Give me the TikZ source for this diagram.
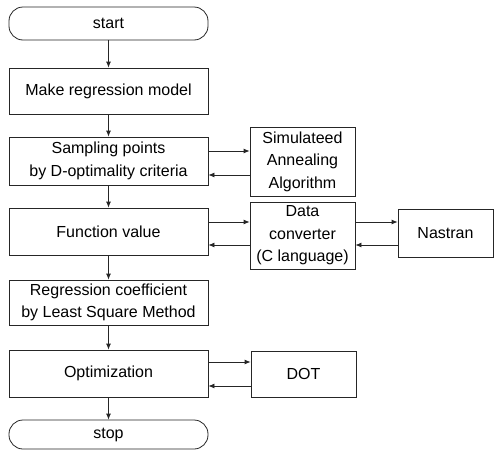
\documentclass[tikz,border=0pt]{standalone}
\usepackage{fontspec}
\setmainfont{Liberation Sans}
\usetikzlibrary{arrows.meta,positioning}
\begin{document}
\begin{tikzpicture}[x=1pt,y=-1pt,
  box/.style={draw=black!85,line width=0.8pt,align=center,inner sep=1pt,
    font=\fontsize{16}{22.5}\selectfont},
  term/.style={box,rounded corners=14pt},
  arr/.style={draw=black!85,line width=0.8pt,-{Latex[length=6pt,width=5pt]}}]
\useasboundingbox (0,0) rectangle (499,453);
\node[term,minimum width=199pt,minimum height=33pt] (start) at (108.5,23.5) {start};
\node[box,minimum width=199pt,minimum height=46pt] (make) at (108.5,91) {Make regression model};
\node[box,minimum width=199pt,minimum height=48pt] (samp) at (108.5,161) {Sampling points\\by D-optimality criteria};
\node[box,minimum width=199pt,minimum height=47pt] (func) at (108.5,231.5) {Function value};
\node[box,minimum width=199pt,minimum height=45pt] (regr) at (108.5,302.5) {Regression coefficient\\by Least Square Method};
\node[box,minimum width=199pt,minimum height=47pt] (opt) at (108.5,373.5) {Optimization};
\node[term,minimum width=199pt,minimum height=29pt] (stop) at (108.5,434.5) {stop};
\node[box,minimum width=105pt,minimum height=69pt] (sa) at (302.5,161.5) {Simulateed\\Annealing\\Algorithm};
\node[box,minimum width=105pt,minimum height=67pt] (dc) at (302.5,235.5) {Data\\converter\\(C language)};
\node[box,minimum width=95pt,minimum height=48pt] (nas) at (445.5,233) {Nastran};
\node[box,minimum width=105pt,minimum height=46pt] (dot) at (303.5,374) {DOT};
\draw[arr] (start) -- (make);
\draw[arr] (make) -- (samp);
\draw[arr] (samp) -- (func);
\draw[arr] (func) -- (regr);
\draw[arr] (regr) -- (opt);
\draw[arr] (opt) -- (stop);
\draw[arr] ([yshift=10pt]samp.east) -- ([yshift=10pt]samp.east -| sa.west);
\draw[arr] ([yshift=-14pt]samp.east -| sa.west) -- ([yshift=-14pt]samp.east);
\draw[arr] ([yshift=9.5pt]func.east) -- ([yshift=9.5pt]func.east -| dc.west);
\draw[arr] ([yshift=-13.5pt]func.east -| dc.west) -- ([yshift=-13.5pt]func.east);
\draw[arr] ([yshift=9.5pt]func.east -| dc.east) -- ([yshift=9.5pt]func.east -| nas.west);
\draw[arr] ([yshift=-13.5pt]func.east -| nas.west) -- ([yshift=-13.5pt]func.east -| dc.east);
\draw[arr] ([yshift=11.5pt]opt.east) -- ([yshift=11.5pt]opt.east -| dot.west);
\draw[arr] ([yshift=-12.5pt]opt.east -| dot.west) -- ([yshift=-12.5pt]opt.east);
\end{tikzpicture}
\end{document}
